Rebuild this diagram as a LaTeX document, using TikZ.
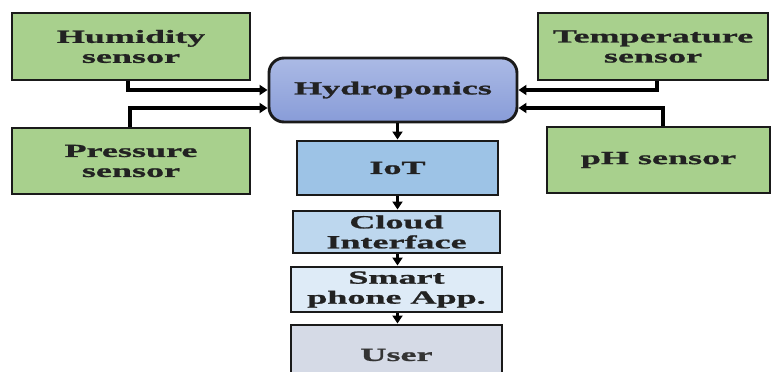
\documentclass[tikz,border=0pt]{standalone}
\usepackage{fontspec}
\setmainfont{Liberation Serif}[FakeStretch=1.95,FakeBold=1.2]
\usetikzlibrary{arrows.meta}
\definecolor{sgreen}{HTML}{A8D08D}
\definecolor{hydtop}{HTML}{ABBAE5}
\definecolor{hydbot}{HTML}{889CD8}
\definecolor{iotc}{HTML}{9DC3E6}
\definecolor{cloudc}{HTML}{BDD7EE}
\definecolor{phonec}{HTML}{DEEBF7}
\definecolor{userc}{HTML}{D5DAE6}
\definecolor{edge}{HTML}{1A1A1A}
\definecolor{txt}{HTML}{222222}
\begin{document}
\begin{tikzpicture}[x=1pt,y=-1pt,
  box/.style={draw=edge,line width=2.9pt,rectangle,align=center,text=txt,
    font=\bfseries\fontsize{18.5}{20}\selectfont,inner sep=0pt},
  sensorbox/.style={box,fill=sgreen},
  arr/.style={draw=black,line width=3.4pt,-{Triangle[length=8pt,width=10pt]}}]
\useasboundingbox (0,0) rectangle (771,372);
\begin{scope}
\clip (0,0) rectangle (771,372);
\node[sensorbox,minimum width=238pt,minimum height=67pt] (hum) at (131,46.5) {Humidity\\sensor};
\node[sensorbox,minimum width=238pt,minimum height=66pt] (pres) at (131,161) {Pressure\\sensor};
\node[sensorbox,minimum width=230pt,minimum height=67pt] (temp) at (653,46.5) {Temperature\\sensor};
\node[sensorbox,minimum width=223pt,minimum height=66pt] (ph) at (658.5,160) {pH sensor};
\node[box,rounded corners=15pt,top color=hydtop,bottom color=hydbot,
  minimum width=248pt,minimum height=64pt] (hyd) at (393,90) {Hydroponics};
\node[box,fill=iotc,minimum width=201pt,minimum height=54pt] (iot) at (397.5,168) {IoT};
\node[box,fill=cloudc,minimum width=207pt,minimum height=42pt] (cloud) at (396.5,232) {Cloud\\Interface};
\node[box,fill=phonec,minimum width=211pt,minimum height=45pt] (phone) at (396.5,289.5) {Smart\\phone App.};
\node[box,fill=userc,text=txt!92,minimum width=211pt,minimum height=60pt] (user) at (396.5,355) {User};
\draw[arr] ([xshift=-3pt]hum.south) |- (hyd.west);
\draw[arr] ([xshift=-1pt]pres.north) |- ([yshift=-18pt]hyd.west);
\draw[arr] ([xshift=4pt]temp.south) |- (hyd.east);
\draw[arr] ([xshift=4.5pt]ph.north) |- ([yshift=-18pt]hyd.east);
\draw[arr] (hyd.south -| iot.north) -- (iot.north);
\draw[arr] (iot.south) -- (iot.south |- cloud.north);
\draw[arr] (cloud.south -| iot.south) -- (iot.south |- phone.north);
\draw[arr] (phone.south -| iot.south) -- (iot.south |- user.north);
\end{scope}
\end{tikzpicture}
\end{document}
